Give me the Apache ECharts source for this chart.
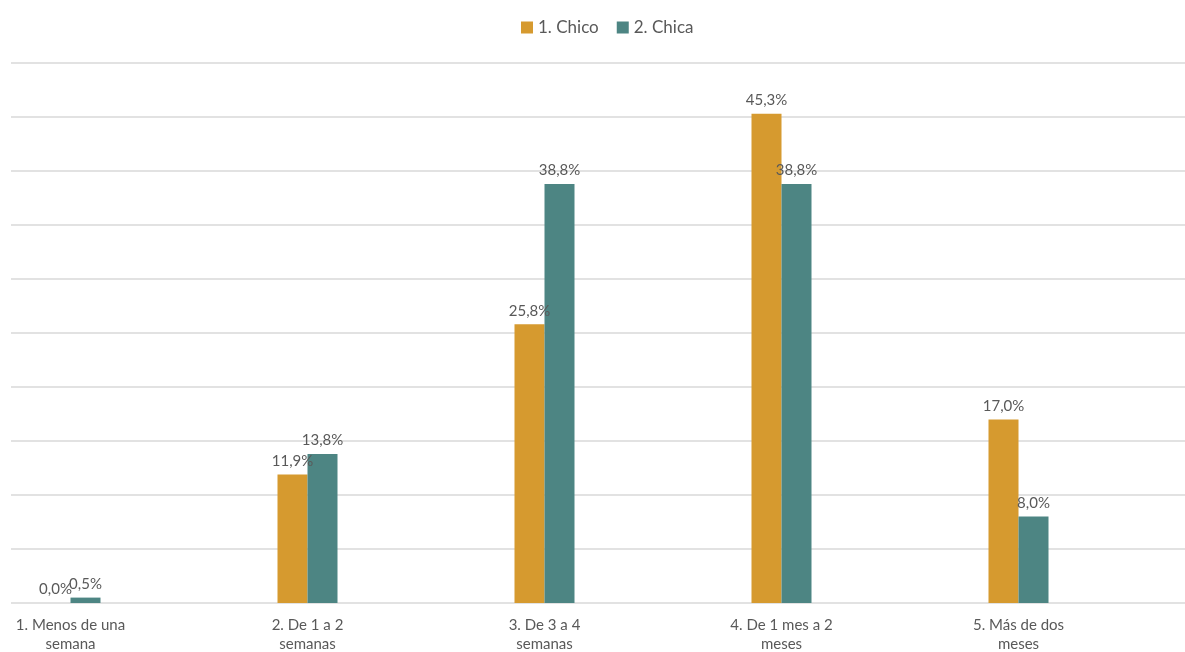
<!DOCTYPE html>
<html>
<head>
<meta charset="utf-8">
<script src="https://cdn.jsdelivr.net/npm/echarts@6/dist/echarts.min.js"></script>
<style>html,body{margin:0;padding:0;background:#fff}#c{width:1185px;height:652px}</style>
</head>
<body>
<div id="c"></div>
<script>
const categories = ["1. Menos de una semana", "2. De 1 a 2 semanas", "3. De 3 a 4 semanas", "4. De 1 mes a 2 meses", "5. Más de dos meses"];
const chico = [0.0, 11.9, 25.8, 45.3, 17.0];
const chica = [0.5, 13.8, 38.8, 38.8, 8.0];
const seriesNames = ["1. Chico", "2. Chica"];

const FONT = "Lato, 'Open Sans', sans-serif";
const TXT = "#595959";
function pct(v){ return v.toFixed(1).replace('.', ',') + '%'; }
function wrap(s){ const i = s.lastIndexOf(' '); return s.slice(0,i) + '\n' + s.slice(i+1); }

const chart = echarts.init(document.getElementById('c'));
chart.setOption({
  animation: false,
  textStyle: { fontFamily: FONT },
  legend: {
    top: 14, left: 516,
    itemWidth: 12, itemHeight: 12, itemGap: 18,
    icon: 'rect',
    textStyle: { color: TXT, fontSize: 17, fontFamily: FONT },
    data: seriesNames
  },
  grid: [
    { left: 11, right: 0, top: 63, bottom: 49, outerBoundsMode: 'none', containLabel: false },
    { left: -48, right: 48, top: 63, bottom: 49, outerBoundsMode: 'none', containLabel: false }
  ],
  xAxis: [
    { gridIndex: 0, type: 'category', data: categories, show: false },
    { gridIndex: 1, type: 'category', data: categories,
      axisLine: { show: false }, axisTick: { show: false },
      axisLabel: { color: TXT, fontSize: 15, fontFamily: FONT, lineHeight: 19, margin: 13, formatter: wrap, interval: 0 } }
  ],
  yAxis: [
    { gridIndex: 0, type: 'value', min: 0, max: 50, interval: 5,
      axisLabel: { show: false }, axisLine: { show: false }, axisTick: { show: false },
      splitLine: { lineStyle: { color: '#d9d9d9', width: 1.5 } } },
    { gridIndex: 1, type: 'value', min: 0, max: 50, interval: 5, show: false, splitLine: { show: false } }
  ],
  series: [
    { name: seriesNames[0], type: 'bar', xAxisIndex: 1, yAxisIndex: 1, data: chico,
      barWidth: 30, barGap: '0%', itemStyle: { color: '#D69A2F' },
      label: { show: true, position: 'top', distance: 6, color: TXT, fontSize: 15, fontFamily: FONT, formatter: p => pct(p.value) } },
    { name: seriesNames[1], type: 'bar', xAxisIndex: 1, yAxisIndex: 1, data: chica,
      barWidth: 30, barGap: '0%', itemStyle: { color: '#4D8583' },
      label: { show: true, position: 'top', distance: 6, color: TXT, fontSize: 15, fontFamily: FONT, formatter: p => pct(p.value) } }
  ]
});
</script>
</body>
</html>
